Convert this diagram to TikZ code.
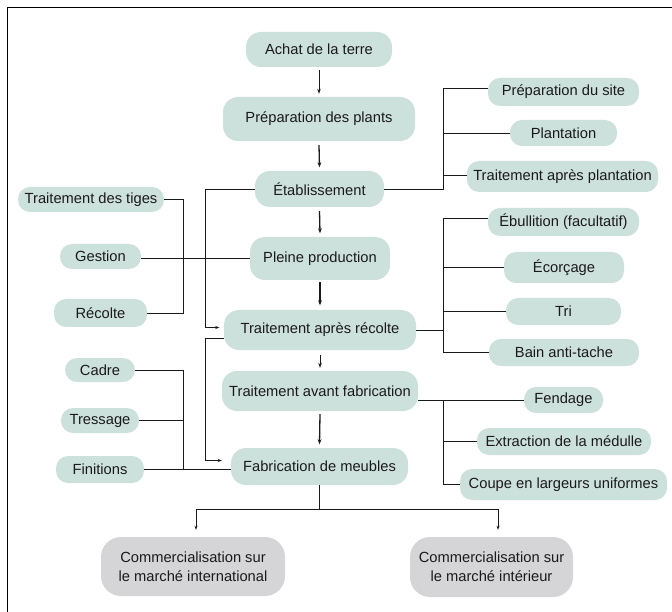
\documentclass[tikz,border=0pt]{standalone}
\usepackage{fontspec}
\setmainfont{Liberation Sans}
\usetikzlibrary{arrows.meta}
\definecolor{boxteal}{HTML}{CDE1DC}
\definecolor{boxgrey}{HTML}{D5D5D7}
\definecolor{inkc}{HTML}{1A1A1A}
\begin{document}
\begin{tikzpicture}[x=1pt,y=-1pt,
  font=\fontsize{14.7}{18.6}\selectfont,
  box/.style={fill=boxteal, rounded corners=12pt, inner sep=0pt, align=center, text=inkc},
  bigbox/.style={box, rounded corners=15pt},
  greybox/.style={fill=boxgrey, rounded corners=20pt, inner sep=0pt, align=center, text=inkc},
  conn/.style={line width=0.8pt, draw=inkc},
  arrthin/.style={line width=0.8pt, draw=inkc, -{Stealth[length=5pt,width=3.6pt]}},
  arrthick/.style={line width=1.3pt, draw=inkc, -{Stealth[length=5pt,width=3.8pt]}},
  arrsmall/.style={line width=0.8pt, draw=inkc, -{Stealth[length=4pt,width=3pt]}}
]
\clip (0,0) rectangle (672,612);
\useasboundingbox (0,0) rectangle (672,612);
\draw[line width=1.3pt] (7.3,7.6) rectangle (690,630);

% main column
\node[bigbox, minimum width=146pt, minimum height=35pt] (achat) at (319,49.5) {Achat de la terre};
\node[bigbox, minimum width=192pt, minimum height=44pt] (prep) at (319,119) {Préparation des plants};
\node[bigbox, minimum width=129pt, minimum height=36pt] (etab) at (319.5,189) {Établissement};
\node[bigbox, minimum width=140pt, minimum height=43pt] (pleine) at (320,258.5) {Pleine production};
\node[bigbox, minimum width=192pt, minimum height=40pt] (tar) at (320,330) {Traitement après récolte};
\node[bigbox, minimum width=196pt, minimum height=40pt] (taf) at (320,391) {Traitement avant fabrication};
\node[bigbox, minimum width=177pt, minimum height=37pt] (fab) at (319.5,466.5) {Fabrication de meubles};

% right column
\node[box, minimum width=151pt, minimum height=28pt] (prepsite) at (563.5,92) {Préparation du site};
\node[box, minimum width=107pt, minimum height=26pt] (plantation) at (563.5,133) {Plantation};
\node[box, minimum width=191pt, minimum height=31pt] (tap) at (562.5,176.5) {Traitement après plantation};
\node[box, minimum width=151pt, minimum height=28pt] (ebull) at (563.5,222) {Ébullition (facultatif)};
\node[box, minimum width=120pt, minimum height=31pt] (ecorcage) at (564,267.5) {Écorçage};
\node[box, minimum width=115pt, minimum height=27pt] (tri) at (563.5,311.5) {Tri};
\node[box, minimum width=150pt, minimum height=27pt] (bain) at (564,352.5) {Bain anti-tache};
\node[box, minimum width=79pt, minimum height=26pt] (fendage) at (563.5,400) {Fendage};
\node[box, minimum width=174pt, minimum height=27pt] (extraction) at (564,441.5) {Extraction de la médulle};
\node[box, minimum width=207pt, minimum height=31pt] (coupe) at (563.5,484.5) {Coupe en largeurs uniformes};

% left column
\node[box, minimum width=146pt, minimum height=25pt] (tiges) at (91,199.5) {Traitement des tiges};
\node[box, minimum width=81pt, minimum height=25pt] (gestion) at (100.5,256.5) {Gestion};
\node[box, minimum width=93pt, minimum height=28pt] (recolte) at (100.5,313) {Récolte};
\node[box, minimum width=70pt, minimum height=24pt] (cadre) at (100,370) {Cadre};
\node[box, minimum width=78pt, minimum height=25pt] (tressage) at (100,420.5) {Tressage};
\node[box, minimum width=88pt, minimum height=27pt] (finitions) at (100,469.5) {Finitions};

% markets
\node[greybox, minimum width=184pt, minimum height=59pt] (comint) at (193,566.5) {Commercialisation sur\\le marché international};
\node[greybox, minimum width=163pt, minimum height=60pt] (comnat) at (491.5,567) {Commercialisation sur\\le marché intérieur};

% helper coordinates
\coordinate (lb) at (183.5,0);
\coordinate (lx) at (205.5,0);
\coordinate (rb) at (443.5,0);
\coordinate (dl) at (196,509);
\coordinate (dr) at (498,509);

% main chain
\draw[arrthin] ([yshift=-3pt]achat.south) -- ([yshift=3pt]prep.north);
\draw[arrthick] ([yshift=-4pt]prep.south) -- ([yshift=3.5pt]etab.north);
\draw[arrthick] ([yshift=-4pt]etab.south) -- ([yshift=3.5pt]pleine.north);
\draw[arrthick] ([yshift=-2pt]pleine.south) -- ([yshift=4.5pt]tar.north);
\draw[arrthin] ([yshift=-5pt]tar.south) -- ([yshift=3pt]taf.north);
\draw[arrthick] ([yshift=-3pt]taf.south) -- ([yshift=3.5pt]fab.north);

% left routes into TAR and Fab
\coordinate (tarin) at ([xshift=-4.5pt,yshift=2.5pt]tar.west);
\coordinate (tarout) at ([yshift=-8pt]tar.west);
\coordinate (fabin) at ([xshift=-9pt,yshift=6pt]fab.west);
\draw[arrsmall] (etab.west) -- (etab.west -| lx) |- (tarin);
\draw[arrsmall] (tarout) -- (tarout -| lx) |- (fabin);

% left brackets
\draw[conn] (tiges.east) -- (tiges.east -| lb) -- (recolte.east -| lb) -- (recolte.east);
\draw[conn] (gestion.east |- pleine.west) -- (pleine.west);
\draw[conn] (cadre.east) -- (cadre.east -| lb) -- (finitions.east -| lb);
\draw[conn] (tressage.east) -- (tressage.east -| lb);
\draw[conn] (finitions.east) -- (finitions.east -| fab.west);

% right bracket of Etablissement
\coordinate (psin) at ([yshift=4pt]prepsite.west);
\coordinate (tapin) at ([yshift=1.5pt]tap.west);
\draw[conn] (etab.east) -- (etab.east -| rb) -- (psin -| rb) -- (psin);
\draw[conn] (plantation.west -| rb) -- (plantation.west);
\draw[conn] (tapin -| rb) -- (tapin);

% right bracket of TAR
\coordinate (ebin) at ([yshift=4pt]ebull.west);
\draw[conn] (tar.east) -- (tar.east -| rb);
\draw[conn] (ebin) -- (ebin -| rb) -- (bain.west -| rb) -- (bain.west);
\draw[conn] (ecorcage.west -| rb) -- (ecorcage.west);
\draw[conn] (tri.west -| rb) -- (tri.west);

% right bracket of TAF
\draw[conn] (taf.east |- fendage.west) -- (fendage.west);
\draw[conn] (fendage.west -| rb) -- (coupe.west -| rb) -- (coupe.west);
\draw[conn] (extraction.west -| rb) -- (extraction.west);

% markets
\coordinate (ciin) at ([yshift=7pt]comint.north);
\draw[conn] (fab.south) -- (fab.south |- dl);
\draw[conn] (dl) -- (dr);
\draw[arrsmall] (dl) -- (dl |- ciin);
\draw[arrsmall] (dr) -- (dr |- ciin);
\end{tikzpicture}
\end{document}
